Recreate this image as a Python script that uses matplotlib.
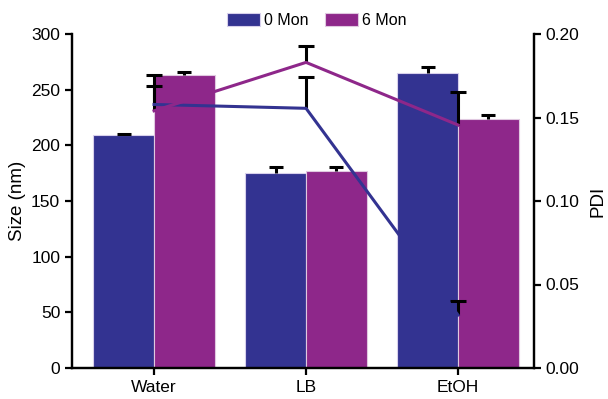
import matplotlib
matplotlib.use("Agg")
import matplotlib.pyplot as plt
import numpy as np

plt.rcParams['font.family'] = ['Liberation Sans', 'DejaVu Sans']

categories = ["Water", "LB", "EtOH"]
series_names = ["0 Mon", "6 Mon"]
size_0 = [209, 175, 265]
size_0_err = [1.5, 5.5, 5]
size_6 = [263, 177, 224]
size_6_err = [3, 3.5, 3]
pdi_0 = [0.1578, 0.1555, 0.0317]
pdi_0_err = [0.011, 0.019, 0.0086]
pdi_6 = [0.154, 0.183, 0.1455]
pdi_6_err = [0.0217, 0.010, 0.0196]
left_ticks = [0, 50, 100, 150, 200, 250, 300]
right_ticks = [0.00, 0.05, 0.10, 0.15, 0.20]

blue = "#333391"
purple = "#8E278A"

fig = plt.figure(figsize=(6.08, 3.99), dpi=100)
ax = fig.add_axes([72/608, 31/399, (534-72)/608, (368-34)/399])
x = np.arange(len(categories))
w = 0.4
ekw = dict(ecolor='black', elinewidth=2.2, capthick=2.2, capsize=5)
b0 = ax.bar(x - w/2, size_0, w, color=blue, edgecolor='#d8d0ec', linewidth=0.8,
            yerr=[np.zeros(3), size_0_err], error_kw=ekw, label=series_names[0], zorder=2)
b6 = ax.bar(x + w/2, size_6, w, color=purple, edgecolor='#e0c8e0', linewidth=0.8,
            yerr=[np.zeros(3), size_6_err], error_kw=ekw, label=series_names[1], zorder=2)
for b in (b0, b6):
    b.errorbar.lines[1][0].set_visible(False)
ax.set_xlim(-0.54, 2.5)
ax.set_ylim(0, 300)
ax.set_yticks(left_ticks)
ax.set_xticks(x)
ax.set_xticklabels(categories)
ax.set_ylabel("Size (nm)", fontsize=13.5, labelpad=4)
ax.spines['top'].set_visible(False)
for s in ['left', 'bottom', 'right']:
    ax.spines[s].set_linewidth(1.6)
ax.tick_params(axis='both', labelsize=12.5, width=1.6, length=5, direction='out')

ax2 = ax.twinx()
for vals, errs, col in ((pdi_0, pdi_0_err, blue), (pdi_6, pdi_6_err, purple)):
    c = ax2.errorbar(x, vals, yerr=[np.zeros(3), errs], color=col, lw=2.2,
                     ecolor='black', elinewidth=2.2, capthick=2.2, capsize=6, zorder=3)
    c.lines[1][0].set_visible(False)
ax2.set_ylim(0, 0.20)
ax2.set_yticks(right_ticks)
ax2.set_yticklabels([f"{t:.2f}" for t in right_ticks])
ax2.set_ylabel("PDI", fontsize=13.5, labelpad=7)
ax2.spines['top'].set_visible(False)
for s in ['left', 'bottom', 'right']:
    ax2.spines[s].set_linewidth(1.6)
ax2.tick_params(axis='y', labelsize=12.5, width=1.6, length=5, direction='out')

ax.legend(loc='center', bbox_to_anchor=(0.53, 1.04), ncol=2, frameon=False,
          fontsize=11.5, handlelength=2.1, handleheight=0.85, columnspacing=1.0,
          handletextpad=0.25, borderaxespad=0, borderpad=0)

fig.savefig("out.png", dpi=100)
